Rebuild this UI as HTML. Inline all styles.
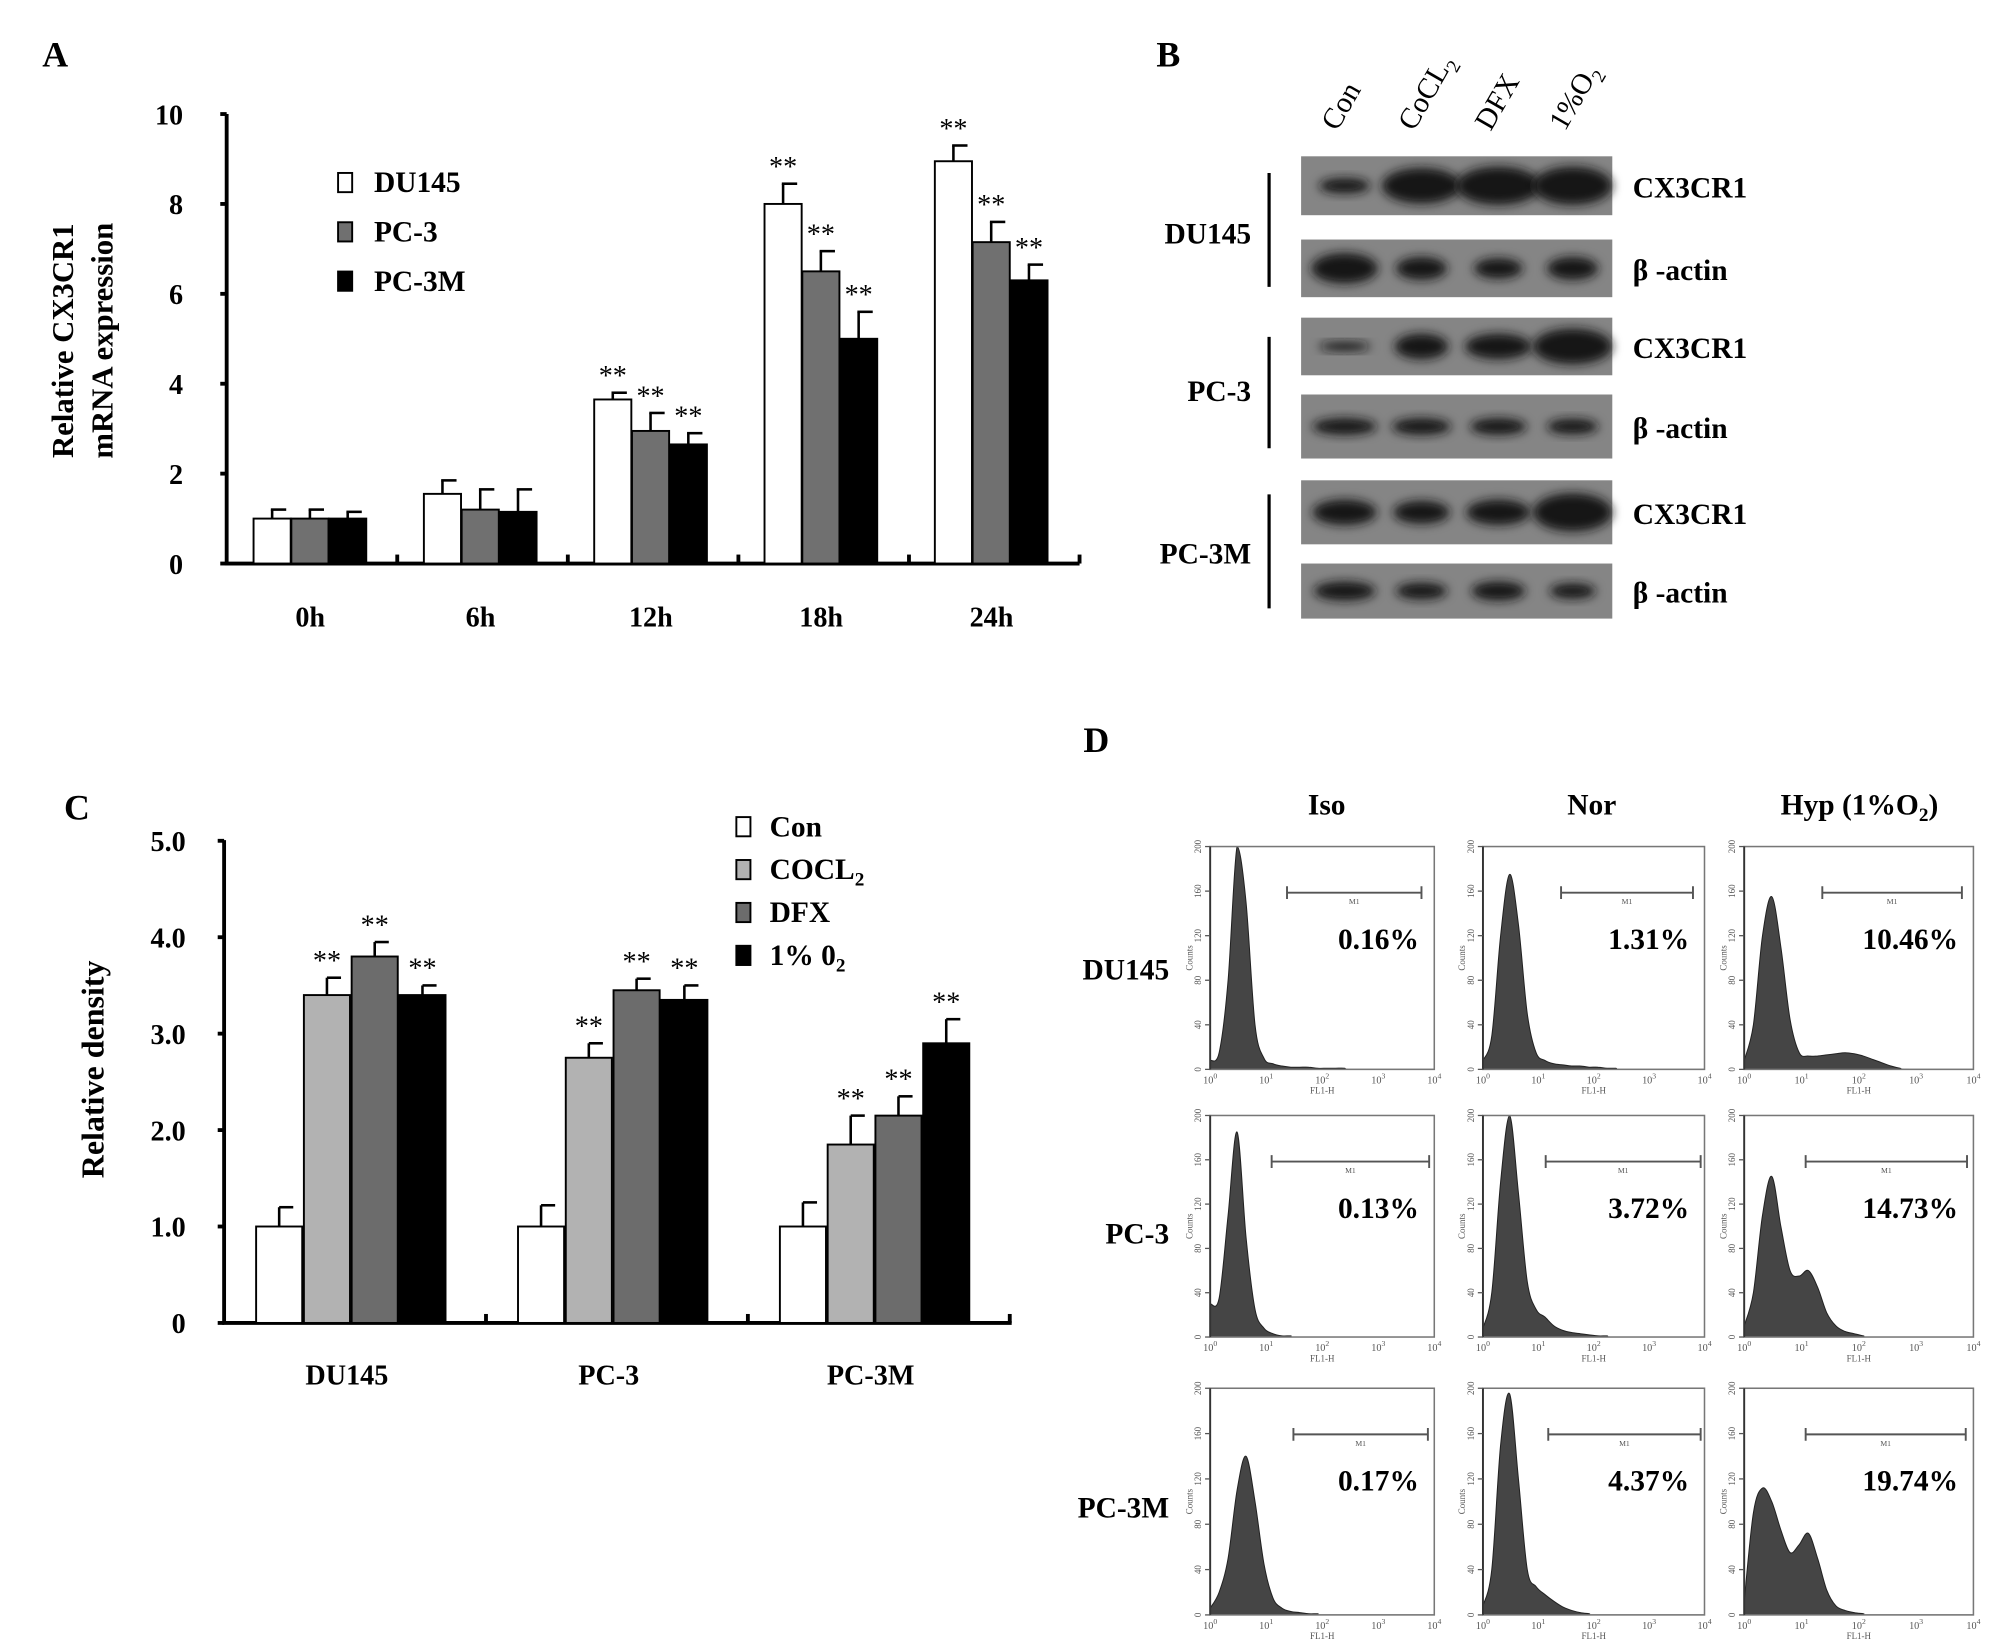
<!DOCTYPE html>
<html><head><meta charset="utf-8"><style>
html,body{margin:0;padding:0;background:#fff}
svg{display:block}
text{font-family:"Liberation Serif",serif}
</style></head><body>
<svg id="fig" xmlns="http://www.w3.org/2000/svg" width="2008" height="1647" viewBox="0 0 1568 1286">
<defs><filter id="bl" x="-50%" y="-50%" width="200%" height="200%"><feGaussianBlur stdDeviation="4"/></filter></defs>
<g id="pa"></g>
<g id="pb"></g>
<g id="pc"></g>
<g id="pd"></g>
</svg>
<script>
// Panel A data
const aCategories = ["0h","6h","12h","18h","24h"];
const aSeries = ["DU145","PC-3","PC-3M"];
const aDU145 = [1.0,1.55,3.65,8.0,8.95];
const aPC3 = [1.0,1.2,2.95,6.5,7.15];
const aPC3M = [1.0,1.15,2.65,5.0,6.3];
const aErrDU145 = [0.2,0.3,0.15,0.45,0.35];
const aErrPC3 = [0.2,0.45,0.4,0.45,0.45];
const aErrPC3M = [0.15,0.5,0.25,0.6,0.35];
const aSig = [false,false,true,true,true];
const aTicks = [0,2,4,6,8,10];
// Panel C data
const cCategories = ["DU145","PC-3","PC-3M"];
const cSeries = ["Con","COCL2","DFX","1% 02"];
const cCon = [1.0,1.0,1.0];
const cCocl2 = [3.4,2.75,1.85];
const cDfx = [3.8,3.45,2.15];
const cO2 = [3.4,3.35,2.9];
const cErrCon = [0.2,0.22,0.25];
const cErrCocl2 = [0.18,0.15,0.3];
const cErrDfx = [0.15,0.12,0.2];
const cErrO2 = [0.1,0.15,0.25];
const cTicks = ["0","1.0","2.0","3.0","4.0","5.0"];
// Panel D data (counts per log bin, step 0.16 decade)
const dPercents = [["0.16%","1.31%","10.46%"],["0.13%","3.72%","14.73%"],["0.17%","4.37%","19.74%"]];
const hIsoDU = [8,15,80,200,150,40,10,5,3,2,2,2,1,1,1,1,0];
const hNorDU = [8,30,120,175,130,50,15,8,5,4,3,3,2,2,1,1,0];
const hHypDU = [8,40,120,155,110,45,15,12,12,13,14,15,14,12,9,6,3,1,0];
const hIsoPC3 = [30,35,110,185,90,25,8,3,1,1,0];
const hNorPC3 = [8,40,140,200,130,50,25,18,10,6,4,3,2,1,1,0];
const hHypPC3 = [10,40,110,145,100,60,55,60,45,22,10,5,3,1,0];
const hIsoPC3M = [6,20,50,110,140,100,45,15,6,3,2,1,1,0];
const hNorPC3M = [8,40,150,195,120,40,25,18,12,7,4,2,1,0];
const hHypPC3M = [12,90,112,100,75,55,62,72,50,22,8,4,2,1,0];

const NS="http://www.w3.org/2000/svg";
function mk(parent,tag,attrs,txt){const e=document.createElementNS(NS,tag);for(const k in attrs)e.setAttribute(k,attrs[k]);if(txt!==undefined)e.textContent=txt;parent.appendChild(e);return e;}

// ---------- Panel A ----------
const pa=document.getElementById('pa');
const aY=v=>440-v*35.1;
const aX=(g,s)=>198+g*133+s*29.5;
let t=mk(pa,'text',{x:33,y:52,'font-size':28,'font-weight':'bold'},'A');


let ax=mk(pa,'path',{d:'M177 89 V440 H843',stroke:'#000','stroke-width':3,fill:'none'});


aTicks.forEach(v=>{
  mk(pa,'line',{x1:172,x2:177,y1:aY(v),y2:aY(v),stroke:'#000','stroke-width':3});
  const l=mk(pa,'text',{x:143,y:aY(v)+8,'font-size':22,'font-weight':'bold','text-anchor':'end'},String(v));
  
  
});
for(let g=1;g<=5;g++) mk(pa,'line',{x1:177+g*133.2,x2:177+g*133.2,y1:433,y2:440,stroke:'#000','stroke-width':3});
const aCols=['#fff','#707070','#000'];
const aVals=[aDU145,aPC3,aPC3M], aErrs=[aErrDU145,aErrPC3,aErrPC3M];
aCategories.forEach((c,g)=>{
  const l=mk(pa,'text',{x:aX(g,1.5),y:489,'font-size':22,'font-weight':'bold','text-anchor':'middle'},c);
  
  
  aVals.forEach((arr,s)=>{
    const x=aX(g,s), v=arr[g], e=aErrs[s][g], cx=x+14.5;
    mk(pa,'line',{x1:cx,x2:cx,y1:aY(v),y2:aY(v+e),stroke:'#000','stroke-width':2});
    mk(pa,'line',{x1:cx-1,x2:cx+11,y1:aY(v+e),y2:aY(v+e),stroke:'#000','stroke-width':2});
    const b=mk(pa,'rect',{x:x,y:aY(v),width:29,height:aY(0)-aY(v),fill:aCols[s],stroke:'#000','stroke-width':1.5});
    
    
    if(aSig[g]){const st=mk(pa,'text',{x:cx,y:aY(v+e)-6,'font-size':22,'text-anchor':'middle'},'**');
      
      }
  });
});
aSeries.forEach((s,i)=>{
  const y=142+i*38.5;
  const r=mk(pa,'rect',{x:264,y:y-7,width:11,height:15,fill:aCols[i],stroke:'#000','stroke-width':1.5});
  
  
  const l=mk(pa,'text',{x:292,y:y+8,'font-size':23,'font-weight':'bold'},s);
  
  
});
let yt=mk(pa,'text',{transform:'translate(57,266) rotate(-90)','font-size':24,'font-weight':'bold','text-anchor':'middle'},'Relative CX3CR1');


yt=mk(pa,'text',{transform:'translate(88,266) rotate(-90)','font-size':24,'font-weight':'bold','text-anchor':'middle'},'mRNA expression');



// ---------- Panel C ----------
const pc=document.getElementById('pc');
const cY=v=>1033-v*75.3;
const cX=(g,s)=>200+g*204.5+s*37.3;
t=mk(pc,'text',{x:50,y:640,'font-size':28,'font-weight':'bold'},'C');


ax=mk(pc,'path',{d:'M175 656 V1033 H790',stroke:'#000','stroke-width':3,fill:'none'});


cTicks.forEach((lab,i)=>{
  mk(pc,'line',{x1:170,x2:175,y1:cY(i),y2:cY(i),stroke:'#000','stroke-width':3});
  const l=mk(pc,'text',{x:145,y:cY(i)+8,'font-size':22,'font-weight':'bold','text-anchor':'end'},lab);
  
  
});
for(let g=1;g<=3;g++) mk(pc,'line',{x1:175+g*204.5,x2:175+g*204.5,y1:1026,y2:1033,stroke:'#000','stroke-width':3});
const cCols=['#fff','#b2b2b2','#6c6c6c','#000'];
const cVals=[cCon,cCocl2,cDfx,cO2], cErrs=[cErrCon,cErrCocl2,cErrDfx,cErrO2];
cCategories.forEach((c,g)=>{
  const l=mk(pc,'text',{x:cX(g,1.9),y:1081,'font-size':22,'font-weight':'bold','text-anchor':'middle'},c);
  
  
  cVals.forEach((arr,s)=>{
    const x=cX(g,s), v=arr[g], e=cErrs[s][g], cx=x+18;
    mk(pc,'line',{x1:cx,x2:cx,y1:cY(v),y2:cY(v+e),stroke:'#000','stroke-width':2});
    mk(pc,'line',{x1:cx,x2:cx+11,y1:cY(v+e),y2:cY(v+e),stroke:'#000','stroke-width':2});
    const b=mk(pc,'rect',{x:x,y:cY(v),width:36,height:cY(0)-cY(v),fill:cCols[s],stroke:'#000','stroke-width':1.5});
    
    
    if(s>0){const st=mk(pc,'text',{x:cx,y:cY(v+e)-6,'font-size':22,'text-anchor':'middle'},'**');
      
      }
  });
});
cSeries.forEach((s,i)=>{
  const y=645+i*33.5;
  const r=mk(pc,'rect',{x:575,y:y-7,width:11,height:15,fill:cCols[i],stroke:'#000','stroke-width':1.5});
  
  
  const l=mk(pc,'text',{x:601,y:y+8,'font-size':23,'font-weight':'bold'});
  
  
  if(s==='COCL2'){l.textContent='COCL';mk(l,'tspan',{'font-size':15,dy:5},'2');}
  else if(s==='1% 02'){l.textContent='1% 0';mk(l,'tspan',{'font-size':15,dy:5},'2');}
  else l.textContent=s;
});
yt=mk(pc,'text',{transform:'translate(81,835) rotate(-90)','font-size':25,'font-weight':'bold','text-anchor':'middle'},'Relative density');



// ---------- Panel B ----------
const pb=document.getElementById('pb');
t=mk(pb,'text',{x:903,y:52,'font-size':28,'font-weight':'bold'},'B');


const lanes=['Con','CoCL','DFX','1%O'];
const laneX=[1050,1110,1170,1228];
lanes.forEach((n,i)=>{
  const l=mk(pb,'text',{transform:`translate(${laneX[i]-6},103) rotate(-60)`,'font-size':23});
  
  
  l.textContent=n;
  if(i===1||i===3) mk(l,'tspan',{'font-size':15,dy:6},'2');
});
const rows=[[122,168,'CX3CR1',[[40,12],[62,28],[66,30],[62,30]]],
 [187,232,'β -actin',[[52,24],[40,18],[38,16],[40,18]]],
 [248,293,'CX3CR1',[[40,7],[42,20],[52,20],[62,28]]],
 [308,358,'β -actin',[[50,13],[46,13],[44,13],[40,12]]],
 [375,425,'CX3CR1',[[50,20],[44,18],[50,20],[62,30]]],
 [440,483,'β -actin',[[48,15],[40,13],[42,15],[36,12]]]];
rows.forEach((r,i)=>{
  const g=mk(pb,'g',{});
  
  
  mk(g,'rect',{x:1016,y:r[0],width:243,height:r[1]-r[0],fill:'#858585'});
  const cy=(r[0]+r[1])/2;
  r[3].forEach((s,j)=>mk(g,'ellipse',{cx:laneX[j],cy:cy,rx:s[0]/2,ry:s[1]/2,fill:'#151515',filter:'url(#bl)'}));
  const l=mk(pb,'text',{x:1275,y:cy+9,'font-size':23,'font-weight':'bold'},r[2]);
  
  
});
[['DU145',135,224,190],['PC-3',263,350,313],['PC-3M',386,475,440]].forEach(c=>{
  mk(pb,'line',{x1:991,x2:991,y1:c[1],y2:c[2],stroke:'#000','stroke-width':2.5});
  const l=mk(pb,'text',{x:977,y:c[3],'font-size':23,'font-weight':'bold','text-anchor':'end'},c[0]);
  
  
});

// ---------- Panel D ----------
const pd=document.getElementById('pd');
t=mk(pd,'text',{x:846,y:587,'font-size':28,'font-weight':'bold'},'D');


const dCols=[[945,1120],[1158,1331],[1362,1541]];
const dRows=[[661,835],[871,1044],[1084,1261]];
const dM1=[[[1005,1110],[1219,1322],[1423,1532]],[[993,1116],[1207,1328],[1410,1536]],[[1010,1115],[1209,1328],[1410,1535]]];
const dHists=[[hIsoDU,hNorDU,hHypDU],[hIsoPC3,hNorPC3,hHypPC3],[hIsoPC3M,hNorPC3M,hHypPC3M]];
[['Iso',1036],['Nor',1243]].forEach(h=>{
  const l=mk(pd,'text',{x:h[1],y:636,'font-size':23,'font-weight':'bold','text-anchor':'middle'},h[0]);
  
  
});
let hl=mk(pd,'text',{x:1452,y:636,'font-size':23,'font-weight':'bold','text-anchor':'middle'},'Hyp (1%O');


mk(hl,'tspan',{'font-size':15,dy:5},'2');mk(hl,'tspan',{dy:-5},')');
[['DU145',765],['PC-3',971],['PC-3M',1185]].forEach(r=>{
  const l=mk(pd,'text',{x:913,y:r[1],'font-size':23,'font-weight':'bold','text-anchor':'end'},r[0]);
  
  
});
dRows.forEach((ry,ri)=>dCols.forEach((cx,ci)=>{
  const g=mk(pd,'g',{});
  
  
  const [x0,x1]=cx,[y0,y1]=ry;
  const hx=v=>x0+(v/4)*(x1-x0), hy=c=>y1-(Math.min(c,200)/200)*(y1-y0);
  const arr=dHists[ri][ci];
  const pts=arr.map((c,i)=>[hx(i*0.16),hy(c)]);
  pts.push([x1,hy(0)]);
  let d=`M${x0} ${y1} L${pts[0][0].toFixed(1)} ${pts[0][1].toFixed(1)}`;
  for(let i=0;i<pts.length-1;i++){
    const p0=pts[Math.max(0,i-1)],p1=pts[i],p2=pts[i+1],p3=pts[Math.min(pts.length-1,i+2)];
    const c1x=p1[0]+(p2[0]-p0[0])/6, c1y=Math.min(y1,Math.max(y0,p1[1]+(p2[1]-p0[1])/6));
    const c2x=p2[0]-(p3[0]-p1[0])/6, c2y=Math.min(y1,Math.max(y0,p2[1]-(p3[1]-p1[1])/6));
    d+=` C${c1x.toFixed(1)} ${c1y.toFixed(1)} ${c2x.toFixed(1)} ${c2y.toFixed(1)} ${p2[0].toFixed(1)} ${p2[1].toFixed(1)}`;
  }
  d+=` L${x1} ${y1} Z`;
  mk(g,'path',{d:d,fill:'#454545',stroke:'#222','stroke-width':0.8});
  mk(g,'rect',{x:x0,y:y0,width:x1-x0,height:y1-y0,fill:'none',stroke:'#777','stroke-width':1.2});
  mk(g,'line',{x1:x0,x2:x0,y1:y0,y2:y1,stroke:'#333','stroke-width':1.5});
  [0,40,80,120,160,200].forEach(v=>{
    mk(g,'line',{x1:x0-4,x2:x0,y1:hy(v),y2:hy(v),stroke:'#555','stroke-width':1});
    mk(g,'text',{transform:`translate(${x0-7},${hy(v)}) rotate(-90)`,'font-size':7,'text-anchor':'middle','fill':'#555','font-family':'Liberation Sans'},String(v));
  });
  mk(g,'text',{transform:`translate(${x0-14},${(y0+y1)/2}) rotate(-90)`,'font-size':7,'text-anchor':'middle','fill':'#555','font-family':'Liberation Sans'},'Counts');
  for(let k=0;k<=4;k++){
    const tx=mk(g,'text',{x:hx(k),y:y1+11,'font-size':8,'text-anchor':'middle','fill':'#555','font-family':'Liberation Sans'},'10');
    mk(tx,'tspan',{'font-size':6,dy:-4},String(k));
  }
  mk(g,'text',{x:(x0+x1)/2,y:y1+19,'font-size':7,'text-anchor':'middle','fill':'#555','font-family':'Liberation Sans'},'FL1-H');
  const m=dM1[ri][ci], my=y0+36;
  mk(g,'path',{d:`M${m[0]} ${my-5}V${my+5}M${m[0]} ${my}H${m[1]}M${m[1]} ${my-5}V${my+5}`,stroke:'#555','stroke-width':1.5,fill:'none'});
  mk(g,'text',{x:(m[0]+m[1])/2,y:my+9,'font-size':6,'text-anchor':'middle','fill':'#555','font-family':'Liberation Sans'},'M1');
  const p=mk(pd,'text',{x:x1-12,y:y0+80,'font-size':23,'font-weight':'bold','text-anchor':'end'},dPercents[ri][ci]);
  
  
}));
</script>
</body></html>
